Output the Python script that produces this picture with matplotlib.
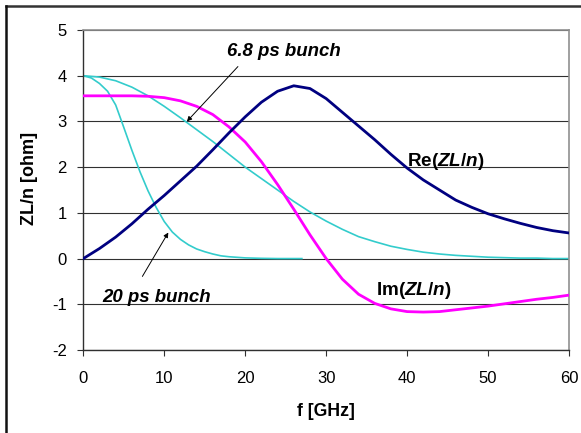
import matplotlib
matplotlib.use("Agg")
import matplotlib.pyplot as plt
from matplotlib.lines import Line2D

plt.rcParams['font.family'] = ['Liberation Sans', 'DejaVu Sans']
plt.rcParams['mathtext.fontset'] = 'custom'
plt.rcParams['mathtext.rm'] = 'Liberation Sans:bold'
plt.rcParams['mathtext.it'] = 'Liberation Sans:bold:italic'
plt.rcParams['mathtext.bf'] = 'Liberation Sans:bold'
plt.rcParams['axes.unicode_minus'] = False

f_main = [0, 2, 4, 6, 8, 10, 12, 14, 16, 18, 20, 22, 24, 26, 28, 30,
          32, 34, 36, 38, 40, 42, 44, 46, 48, 50, 52, 54, 56, 58, 60]
re_zl = [0.0, 0.22, 0.47, 0.76, 1.08, 1.38, 1.70, 2.02, 2.38, 2.75, 3.10,
         3.42, 3.66, 3.78, 3.72, 3.50, 3.20, 2.90, 2.60, 2.28, 1.98, 1.72,
         1.50, 1.28, 1.12, 0.98, 0.87, 0.77, 0.68, 0.61, 0.56]
im_zl = [3.56, 3.56, 3.56, 3.56, 3.55, 3.52, 3.45, 3.33, 3.15, 2.88, 2.55,
         2.12, 1.62, 1.08, 0.52, 0.0, -0.45, -0.78, -0.98, -1.10, -1.16,
         -1.17, -1.16, -1.12, -1.08, -1.04, -0.99, -0.94, -0.89, -0.85, -0.80]
spec_68ps = [4.0, 3.97, 3.89, 3.75, 3.56, 3.33, 3.08, 2.82, 2.56, 2.28, 2.0,
             1.75, 1.5, 1.25, 1.02, 0.82, 0.64, 0.48, 0.37, 0.27, 0.20, 0.14,
             0.10, 0.07, 0.05, 0.03, 0.02, 0.01, 0.01, 0.0, 0.0]

f_20ps = [0, 1, 2, 3, 4, 5, 6, 7, 8, 9, 10, 11, 12, 13, 14, 15, 16, 17, 18,
          20, 22, 24, 27]
spec_20ps = [4.0, 3.95, 3.83, 3.66, 3.36, 2.87, 2.37, 1.90, 1.48, 1.12, 0.81,
             0.58, 0.42, 0.30, 0.21, 0.15, 0.10, 0.06, 0.04, 0.015, 0.005,
             0.0, 0.0]

x_ticks = [0, 10, 20, 30, 40, 50, 60]
y_ticks = [-2, -1, 0, 1, 2, 3, 4, 5]

W, H = 581, 433
fig = plt.figure(figsize=(W / 100, H / 100), dpi=100)
ax = fig.add_axes([83.3/W, (H-350)/H, (569-83.3)/W, (350-30)/H])

for yv in y_ticks:
    ax.axhline(yv, color='#303030', lw=0.8, zorder=0)

ax.plot(f_main, spec_68ps, color='#33CCCC', lw=1.2, zorder=2)
ax.plot(f_20ps, spec_20ps, color='#33CCCC', lw=1.2, zorder=2)
ax.plot(f_main, im_zl, color='#FF00FF', lw=2.0, zorder=3)
ax.plot(f_main, re_zl, color='#000080', lw=2.0, zorder=4)

ax.set_xlim(0, 60)
ax.set_ylim(-2, 5)
ax.set_xticks(x_ticks)
ax.set_yticks(y_ticks)
ax.tick_params(axis='both', direction='out', length=4.3, width=0.8,
               labelsize=12, color='#303030')
ax.tick_params(axis='x', pad=11)
ax.tick_params(axis='y', pad=7.5)

for side in ['left', 'bottom']:
    ax.spines[side].set_color('#303030')
    ax.spines[side].set_linewidth(1.0)
for side in ['top', 'right']:
    ax.spines[side].set_color('#909090')
    ax.spines[side].set_linewidth(1.2)

fig.text(326/W, 1 - 412/H, 'f [GHz]', fontsize=12.7, fontweight='bold',
         ha='center', va='center')
fig.text(30/W, 1 - 178/H, 'ZL/n [ohm]', fontsize=13, fontweight='bold',
         ha='center', va='center', rotation=90)

arrow_style = dict(arrowstyle='-|>', color='black', lw=0.7,
                   mutation_scale=7, shrinkA=0, shrinkB=0)
ax.text(24.8, 4.52, '6.8 ps bunch', fontsize=13.4, fontweight='bold',
        fontstyle='italic', ha='center', va='center')
ax.annotate('', xy=(12.8, 3.0), xytext=(19.1, 4.2), arrowprops=arrow_style)
ax.text(9.1, -0.85, '20 ps bunch', fontsize=13.4, fontweight='bold',
        fontstyle='italic', ha='center', va='center')
ax.annotate('', xy=(10.5, 0.57), xytext=(7.3, -0.39), arrowprops=arrow_style)

ax.text(44.8, 2.13, r'Re($\mathit{ZL/n}$)', fontsize=13.6, fontweight='bold',
        ha='center', va='center')
ax.text(40.8, -0.70, r'Im($\mathit{ZL/n}$)', fontsize=13.6, fontweight='bold',
        ha='center', va='center')

fig.add_artist(Line2D([6/W, 1.0], [1 - 6/H, 1 - 6/H],
                      transform=fig.transFigure, color='#333333', lw=1.8))
fig.add_artist(Line2D([6/W, 6/W], [0.0, 1 - 6/H],
                      transform=fig.transFigure, color='#111111', lw=1.8))

fig.savefig('out.png', dpi=100)
